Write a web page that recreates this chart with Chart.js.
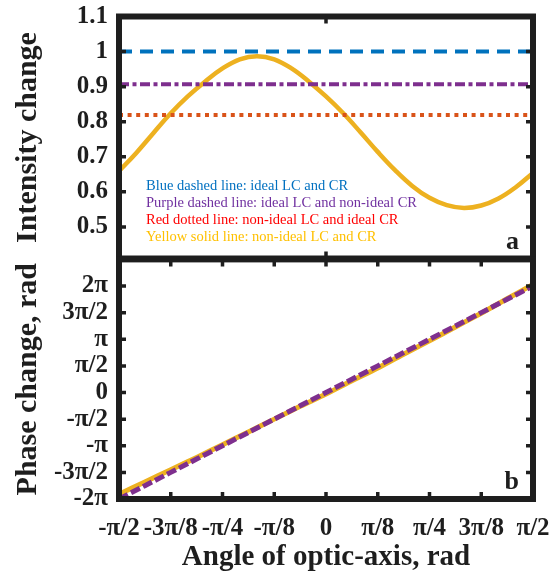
<!DOCTYPE html>
<html><head><meta charset="utf-8">
<script src="https://cdn.jsdelivr.net/npm/chart.js@4.4.1/dist/chart.umd.min.js"></script>
<style>
html,body{margin:0;padding:0;background:#fff;}
#wrap{position:relative;width:553px;height:579px;overflow:hidden;background:#fff;}
canvas{position:absolute;left:0;}
</style></head><body>
<div id="wrap">
<canvas id="top" width="553" height="262" style="top:0px"></canvas>
<canvas id="bot" width="553" height="337" style="top:242px"></canvas>
</div>
<script>
// ---- data (angles in units of π rad) ----
const angleTicks = [-0.5, -0.375, -0.25, -0.125, 0, 0.125, 0.25, 0.375, 0.5];
const angleTickLabels = ['-π/2', '-3π/8', '-π/4', '-π/8', '0', 'π/8', 'π/4', '3π/8', 'π/2'];
const intensityTicks = [0.5, 0.6, 0.7, 0.8, 0.9, 1.0, 1.1];
const intensityTickLabels = ['0.5', '0.6', '0.7', '0.8', '0.9', '1', '1.1'];
const phaseTicks = [-2, -1.5, -1, -0.5, 0, 0.5, 1, 1.5, 2]; // units of π
const phaseTickLabels = ['-2π', '-3π/2', '-π', '-π/2', '0', 'π/2', 'π', '3π/2', '2π'];

const lineEnds = [-0.5, 0.5];
const intensityBlue = [1.0, 1.0];
const intensityPurple = [0.907, 0.907];
const intensityRed = [0.819, 0.819];

const curveAngles = [-0.5, -0.4583, -0.4167, -0.375, -0.3333, -0.2917, -0.25, -0.2083, -0.1667,
  -0.125, -0.0833, -0.0417, 0, 0.0417, 0.0833, 0.125, 0.1667, 0.2083, 0.25, 0.2917, 0.3333,
  0.375, 0.4167, 0.4583, 0.5];
const intensityYellow = [0.659, 0.711, 0.768, 0.824, 0.873, 0.915, 0.952, 0.978, 0.987,
  0.978, 0.952, 0.915, 0.872, 0.824, 0.770, 0.714, 0.662, 0.617, 0.583, 0.562, 0.554,
  0.561, 0.581, 0.613, 0.654];

const phaseAngles = [-0.5, -0.4375, -0.375, -0.3125, -0.25, -0.1875, -0.125, -0.0625, 0,
  0.0625, 0.125, 0.1875, 0.25, 0.3125, 0.375, 0.4375, 0.5];
const phasePurple = [-2, -1.75, -1.5, -1.25, -1, -0.75, -0.5, -0.25, 0,
  0.25, 0.5, 0.75, 1, 1.25, 1.5, 1.75, 2];
const phaseYellow = [-1.91, -1.68, -1.45, -1.22, -0.98, -0.74, -0.50, -0.26, -0.03,
  0.22, 0.46, 0.72, 0.97, 1.23, 1.49, 1.76, 2.03];

const noteLines = [
  'Blue dashed line: ideal LC and CR',
  'Purple dashed line: ideal LC and non-ideal CR',
  'Red dotted line: non-ideal LC and ideal CR',
  'Yellow solid line: non-ideal LC and CR'
];
const noteColors = ['#0070C0', '#7030A0', '#FF0000', '#FFC000'];

const BLUE = '#0072BD', PURPLE = '#7E2F8E', RED = '#D95319', YELLOW = '#EDB120';
const INK = '#1e1e1e';
const SERIF = "'Liberation Serif', 'Times New Roman', serif";

const pts = (xs, ys) => xs.map((x, i) => ({x, y: ys[i]}));

const framePlugin = {
  id: 'frame',
  afterDatasetsDraw(chart, args, opts) {
    const {ctx, chartArea: a, scales} = chart;
    ctx.save();
    ctx.strokeStyle = INK;
    ctx.lineCap = 'butt';
    ctx.lineWidth = 3.5;
    const tl = 7;
    ctx.beginPath();
    for (const v of opts.yTicks) {
      const p = scales.y.getPixelForValue(v);
      ctx.moveTo(a.left, p); ctx.lineTo(a.left + tl, p);
      ctx.moveTo(a.right, p); ctx.lineTo(a.right - tl, p);
    }
    for (const v of opts.xTicks) {
      const p = scales.x.getPixelForValue(v);
      ctx.moveTo(p, a.top); ctx.lineTo(p, a.top + tl);
      ctx.moveTo(p, a.bottom); ctx.lineTo(p, a.bottom - tl);
    }
    ctx.stroke();
    ctx.lineWidth = 6;
    ctx.strokeRect(a.left, a.top, a.right - a.left, a.bottom - a.top);
    if (opts.notes) {
      ctx.font = '14.5px ' + SERIF;
      ctx.textAlign = 'left';
      ctx.textBaseline = 'middle';
      opts.notes.forEach((t, i) => {
        ctx.fillStyle = noteColors[i];
        ctx.fillText(t, a.left + 27, a.top + 169.5 + i * 17);
      });
    }
    ctx.font = 'bold 26px ' + SERIF;
    ctx.fillStyle = INK;
    ctx.textAlign = 'right';
    ctx.textBaseline = 'alphabetic';
    ctx.fillText(opts.panel, a.right - 14, a.bottom - 10);
    ctx.restore();
  }
};

const tickFont = {family: SERIF, size: 25, weight: 'bold'};
const titleFont = {family: SERIF, size: 30, weight: 'bold'};

function yScale(min, max, values, labels, title) {
  return {
    type: 'linear', min, max,
    afterBuildTicks: s => { s.ticks = values.map(v => ({value: v})); },
    afterFit: s => { s.width = 119; s.paddingTop = 0; s.paddingBottom = 0; },
    ticks: {callback: (v, i) => labels[i], font: tickFont, color: INK, padding: 11, autoSkip: false},
    grid: {display: false, drawTicks: false},
    border: {display: false},
    title: {display: true, text: title, font: titleFont, color: INK, padding: {top: 10, bottom: 0}}
  };
}

new Chart(document.getElementById('top'), {
  type: 'line',
  data: {datasets: [
    {data: pts(lineEnds, intensityBlue), borderColor: BLUE, borderWidth: 4, borderDash: [13, 8], pointRadius: 0},
    {data: pts(lineEnds, intensityPurple), borderColor: PURPLE, borderWidth: 4, borderDash: [10, 3.5, 4, 3.5], pointRadius: 0},
    {data: pts(lineEnds, intensityRed), borderColor: RED, borderWidth: 4, borderDash: [4, 4.6], pointRadius: 0},
    {data: pts(curveAngles, intensityYellow), borderColor: YELLOW, borderWidth: 4.5, tension: 0.4, pointRadius: 0}
  ]},
  options: {
    responsive: false, animation: false,
    layout: {padding: {left: 0, right: 20, top: 16.5, bottom: 3.5}},
    plugins: {legend: {display: false}, tooltip: {enabled: false},
      frame: {yTicks: intensityTicks, xTicks: [0], notes: noteLines, panel: 'a'}},
    scales: {
      x: {type: 'linear', min: -0.5, max: 0.5, display: false},
      y: yScale(0.41, 1.1, intensityTicks, intensityTickLabels, 'Intensity change')
    }
  },
  plugins: [framePlugin]
});

new Chart(document.getElementById('bot'), {
  type: 'line',
  data: {datasets: [
    {data: pts(phaseAngles, phasePurple), borderColor: PURPLE, borderWidth: 5, borderDash: [10, 3.5], pointRadius: 0},
    {data: pts(phaseAngles, phaseYellow), borderColor: YELLOW, borderWidth: 5, tension: 0.3, pointRadius: 0}
  ]},
  options: {
    responsive: false, animation: false,
    layout: {padding: {left: 0, right: 20, top: 17.4, bottom: 0}},
    plugins: {legend: {display: false}, tooltip: {enabled: false},
      frame: {yTicks: phaseTicks, xTicks: angleTicks, panel: 'b'}},
    scales: {
      x: {
        type: 'linear', min: -0.5, max: 0.5,
        afterBuildTicks: s => { s.ticks = angleTicks.map(v => ({value: v})); },
        afterFit: s => { s.height = 80; s.paddingLeft = 0; s.paddingRight = 0; },
        ticks: {callback: (v, i) => angleTickLabels[i], font: tickFont, color: INK, padding: 15,
          autoSkip: false, maxRotation: 0, minRotation: 0},
        grid: {display: false, drawTicks: false},
        border: {display: false},
        title: {display: true, text: 'Angle of optic-axis, rad', font: {family: SERIF, size: 29, weight: 'bold'},
          color: INK, padding: {top: 0, bottom: 3.6}}
      },
      y: yScale(-2, 2.5, phaseTicks, phaseTickLabels, 'Phase change, rad')
    }
  },
  plugins: [framePlugin]
});
</script>
</body></html>
